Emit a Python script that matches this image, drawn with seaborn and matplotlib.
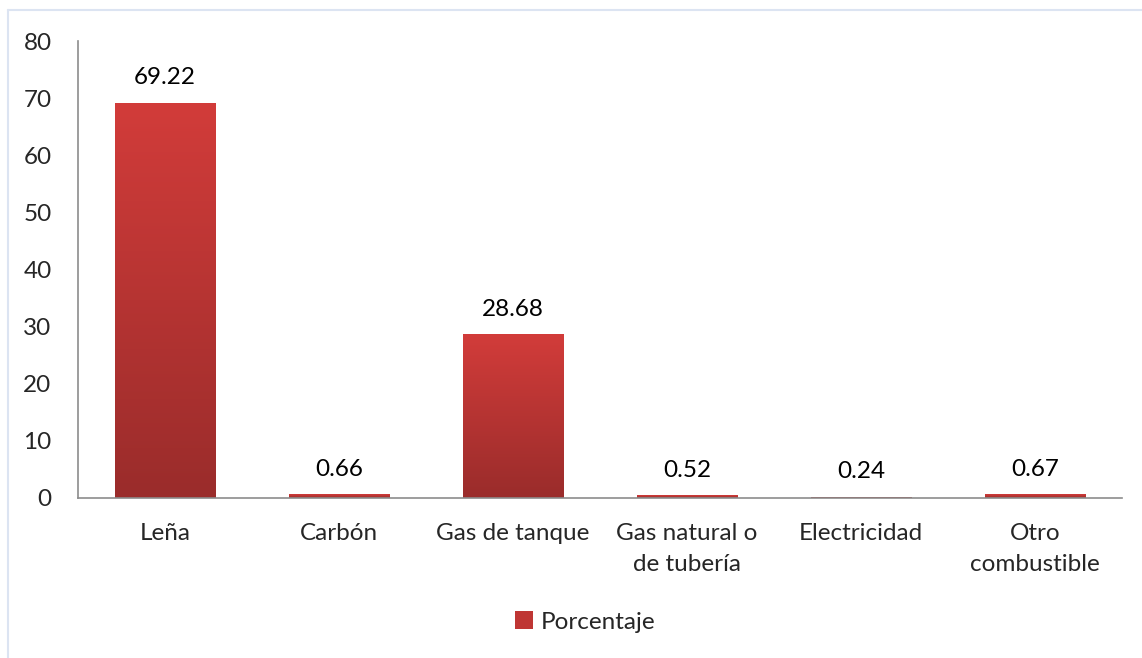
import numpy as np
import pandas as pd
import matplotlib
matplotlib.use("Agg")
import matplotlib.pyplot as plt
from matplotlib.colors import LinearSegmentedColormap
from matplotlib.patches import Patch
from matplotlib.lines import Line2D
import seaborn as sns

categorias = ["Leña", "Carbón", "Gas de tanque", "Gas natural o\nde tubería",
              "Electricidad", "Otro\ncombustible"]
porcentaje = [69.22, 0.66, 28.68, 0.52, 0.24, 0.67]
etiquetas = ["69.22", "0.66", "28.68", "0.52", "0.24", "0.67"]
yticks = [0, 10, 20, 30, 40, 50, 60, 70, 80]
serie = "Porcentaje"

sns.set_theme(style="white")
plt.rcParams["font.family"] = ["Lato", "DejaVu Sans"]
FS = 17.5

df = pd.DataFrame({"categoria": categorias, "valor": porcentaje})

W, H = 1142, 658
fig = plt.figure(figsize=(W / 100, H / 100), dpi=100)
ax = fig.add_axes([78 / W, 1 - 498 / H, (1122 - 78) / W, (498 - 41) / H])

sns.barplot(data=df, x="categoria", y="valor", color="#C0393A", width=0.575,
            ax=ax, saturation=1)

# vertical gradient fill on each bar
cmap = LinearSegmentedColormap.from_list("rojo", ["#9A2C2B", "#D23C3A"])
grad = np.linspace(0, 1, 256).reshape(-1, 1)
for p in ax.patches:
    x0, y0 = p.get_x(), p.get_y()
    w, h = p.get_width(), p.get_height()
    im = ax.imshow(grad, cmap=cmap, origin="lower", aspect="auto",
                   extent=[x0, x0 + w, y0, y0 + h], zorder=p.get_zorder() + 0.1)
    im.set_clip_path(p)

for i, (v, t) in enumerate(zip(porcentaje, etiquetas)):
    ax.text(i, v + 2.5, t, ha="center", va="bottom", fontsize=FS, color="#000000")

ax.set_xlim(-0.5, len(categorias) - 0.5)
ax.set_ylim(0, 80)
ax.set_yticks(yticks)
ax.set_yticklabels([str(t) for t in yticks], fontsize=FS)
ax.set_xticks(range(len(categorias)))
ax.set_xticklabels(categorias, fontsize=FS, linespacing=1.6)
ax.tick_params(axis="y", length=0, pad=19)
ax.tick_params(axis="x", length=0, pad=18)
ax.set_xlabel("")
ax.set_ylabel("")
for s in ["top", "right"]:
    ax.spines[s].set_visible(False)
for s in ["left", "bottom"]:
    ax.spines[s].set_color("#8C8C8C")
    ax.spines[s].set_linewidth(1.2)

handle = Patch(facecolor="#BF3634", edgecolor="none")
fig.legend([handle], [serie], loc="center", bbox_to_anchor=(585 / W, 1 - 622 / H),
           frameon=False, fontsize=FS, handlelength=0.75, handleheight=0.75,
           handletextpad=0.3)

# light frame along top and left edges
fig.add_artist(Line2D([8 / W, 1], [1 - 10 / H, 1 - 10 / H], color="#DCE4F2", lw=1.5))
fig.add_artist(Line2D([8 / W, 8 / W], [0, 1 - 10 / H], color="#DCE4F2", lw=1.5))

fig.savefig("out.png", dpi=100)
